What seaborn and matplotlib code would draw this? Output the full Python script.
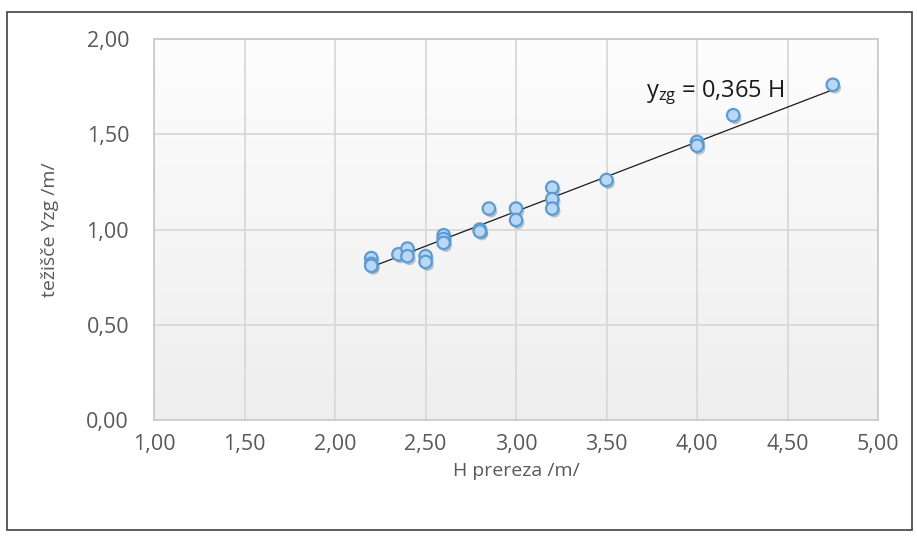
import numpy as np
import matplotlib
matplotlib.use("Agg")
import matplotlib.pyplot as plt
import matplotlib.patheffects as pe
from matplotlib.ticker import FuncFormatter, MultipleLocator
import seaborn as sns
import pandas as pd

# === DATA ===
h_prereza = [2.2, 2.2, 2.2, 2.35, 2.4, 2.4, 2.5, 2.5, 2.6, 2.6, 2.6, 2.8, 2.8,
             2.85, 3.0, 3.0, 3.2, 3.2, 3.2, 3.5, 4.0, 4.0, 4.2, 4.75]
y_zg = [0.85, 0.82, 0.81, 0.87, 0.90, 0.86, 0.86, 0.83, 0.97, 0.95, 0.93, 1.00, 0.99,
        1.11, 1.11, 1.05, 1.22, 1.16, 1.11, 1.26, 1.46, 1.44, 1.60, 1.76]
slope = 0.365
trend_range = [2.2, 4.75]

df = pd.DataFrame({"H": h_prereza, "Yzg": y_zg})
trend = pd.DataFrame({"H": trend_range, "Yzg": [slope * v for v in trend_range]})

# === STYLE ===
sns.set_style("whitegrid")
plt.rcParams["font.family"] = ["Open Sans", "DejaVu Sans"]
plt.rcParams["mathtext.fontset"] = "custom"
plt.rcParams["mathtext.rm"] = "Open Sans"
plt.rcParams["mathtext.it"] = "Open Sans"

fig = plt.figure(figsize=(9.17, 5.36), dpi=100)
ax = fig.add_axes([0.168, 0.2164, 0.7895, 0.7108])

# outer frame
fig.patches.append(plt.Rectangle((7 / 917, 6 / 536), 905 / 917, 518 / 536,
                                 transform=fig.transFigure, fill=False,
                                 edgecolor="#404040", linewidth=1.2))

# soft gradient plot background (light at top)
grad = np.linspace(0, 1, 256).reshape(-1, 1)
cmap = matplotlib.colors.LinearSegmentedColormap.from_list("bg", ["#fdfdfd", "#eeeeee"])
ax.imshow(grad, extent=[1, 5, 0, 2], aspect="auto", cmap=cmap, zorder=0)

sns.lineplot(data=trend, x="H", y="Yzg", color="#1a1a1a", linewidth=0.9, ax=ax, zorder=3)
sns.scatterplot(data=df, x="H", y="Yzg", s=80, color="#b8d8f5", edgecolor="#5b9bd5",
                linewidth=1.6, ax=ax, zorder=4,
                path_effects=[pe.SimplePatchShadow(offset=(1.5, -2), alpha=0.3), pe.Normal()])

ax.text(4.10, 1.72, r"$\mathregular{y_{zg}}$ = 0,365 H", fontsize=17, ha="center",
        va="center", color="#1a1a1a", zorder=5)

ax.set_xlim(1, 5)
ax.set_ylim(0, 2)
ax.xaxis.set_major_locator(MultipleLocator(0.5))
ax.yaxis.set_major_locator(MultipleLocator(0.5))
fmt = FuncFormatter(lambda v, p: f"{v:.2f}".replace(".", ","))
ax.xaxis.set_major_formatter(fmt)
ax.yaxis.set_major_formatter(fmt)
ax.tick_params(labelsize=15.5, colors="#595959", length=0)
ax.tick_params(axis="y", pad=18)
ax.tick_params(axis="x", pad=10)
ax.grid(True, color="#d9d9d9", linewidth=1.3)
for s in ax.spines.values():
    s.set_color("#c8c8c8")
    s.set_linewidth(1.2)

ax.set_xlabel("H prereza /m/", fontsize=14, color="#595959", labelpad=5)
ax.set_ylabel("težišče Yzg /m/", fontsize=14, color="#595959", labelpad=20)

fig.savefig("out.png", dpi=100)
